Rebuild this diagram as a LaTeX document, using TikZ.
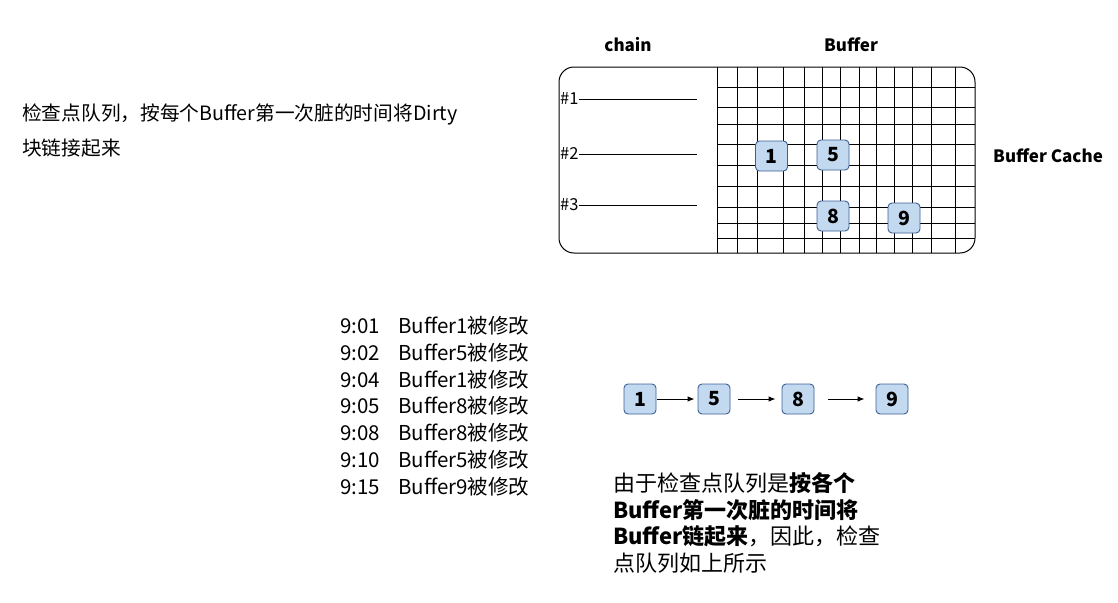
\documentclass[tikz,border=0pt]{standalone}
\usepackage{fontspec}
\setmainfont{Noto Sans CJK SC}
\usetikzlibrary{arrows.meta}
\definecolor{buffill}{HTML}{C3D9EF}
\definecolor{bufdraw}{HTML}{3D5F96}

\begin{document}
\begin{tikzpicture}[x=1pt,y=-1pt,>={Latex[length=7pt,width=5.5pt]}]
	\useasboundingbox (0,0) rectangle (1118,602);
	
	% --- parámetros ---
	\newcommand{\CacheL}{559}
	\newcommand{\CacheR}{975}
	\newcommand{\CacheT}{67}
	\newcommand{\CacheB}{253}
	\newcommand{\GridL}{717}
	\newcommand{\ChainR}{697}
	
	% --- listas ---
	\def\gridX{737,757,783,804,822,840,859,876,894,912,931,955}   % columnas
	\def\gridY{87,107,124,144,165,186,207,223,238}                 % filas
	\def\chains{1/99, 2/154, 3/205}                                % cadena / y
	\def\changes{9:01/1, 9:02/5, 9:04/1, 9:05/8, 9:08/8, 9:10/5, 9:15/9}
	
	% estilos
	\tikzset{
		frame/.style    = {line width=1pt, rounded corners=15pt},
		gridline/.style = {line width=0.9pt},
		buf/.style      = {draw=bufdraw, fill=buffill, line width=0.9pt, rounded corners=4pt,
			minimum width=32pt, minimum height=30pt, inner sep=0pt,
			font=\fontsize{19.5}{19.5}\selectfont\bfseries},
		title/.style    = {anchor=base, inner sep=0pt, font=\fontsize{17}{17}\selectfont\bfseries},
		txt/.style      = {anchor=base west, inner sep=0pt, align=left},
		link/.style     = {->, line width=0.9pt},
	}
	
	% rejilla del Buffer Cache
	\foreach \x in \gridX {\draw[gridline] (\x,\CacheT) -- (\x,\CacheB);}
	\foreach \y in \gridY {\draw[gridline] (\GridL,\y) -- (\CacheR,\y);}
	\draw[gridline] (\GridL,\CacheT) -- (\GridL,\CacheB);
	\draw[frame] (\CacheL,\CacheT) rectangle (\CacheR,\CacheB);
	
	% cadenas
	\foreach \n/\y in \chains {
		\node[txt, font=\fontsize{16.5}{16.5}\selectfont] (h\n) at (560,\y+5.8) {\#\n};
		\coordinate (e\n) at (\ChainR,\y);
		\draw[gridline] (h\n.east |- e\n) -- (e\n);
	}
	
	% títulos
	\node[title] (chainT) at (628,51.5) {chain};
	\node[title] (bufT) at (851,51.5) {Buffer};
	\node[title, anchor=base west] (cacheT) at (993,162.5) {Buffer Cache};
	
	% buffers sucios en la caché
	\node[buf] (g1) at (771.5,156) {1};
	\node[buf] (g5) at (833,155) {5};
	\node[buf] (g8) at (833,216) {8};
	\node[buf] (g9) at (904,218) {9};
	
	% texto de la izquierda (base = última línea)
	\node[txt, font=\fontsize{19.7}{35}\selectfont] (intro) at (22,155.5)
		{检查点队列，按每个Buffer第一次脏的时间将Dirty\\块链接起来};
	
	% registro de modificaciones
	\foreach \hh/\nb [count=\i from 0] in \changes {
		\node[txt, font=\fontsize{20.5}{20.5}\selectfont] (t\i) at (340,333.5+26.8*\i) {\hh};
		\node[txt, font=\fontsize{20.5}{20.5}\selectfont] (m\i) at (398,333.5+26.8*\i) {Buffer\nb{}被修改};
	}
	
	% cola de checkpoint
	\node[buf] (q1) at (640,399) {1};
	\node[buf] (q5) at (714,399) {5};
	\node[buf] (q8) at (798,399) {8};
	\node[buf] (q9) at (892,399) {9};
	\draw[link, shorten <=1pt, shorten >=3pt] (q1) -- (q5);
	\draw[link, shorten <=8pt, shorten >=6pt] (q5) -- (q8);
	\draw[link, shorten <=14pt, shorten >=11pt] (q8) -- (q9);
	
	% nota (base = última línea)
	\node[txt, font=\fontsize{22}{26.7}\selectfont] (note) at (613,571.4)
		{由于检查点队列是\textbf{按各个}\\\textbf{Buffer第一次脏的时间将}\\\textbf{Buffer链起来}，因此，检查\\点队列如上所示};
	
\end{tikzpicture}
\end{document}
